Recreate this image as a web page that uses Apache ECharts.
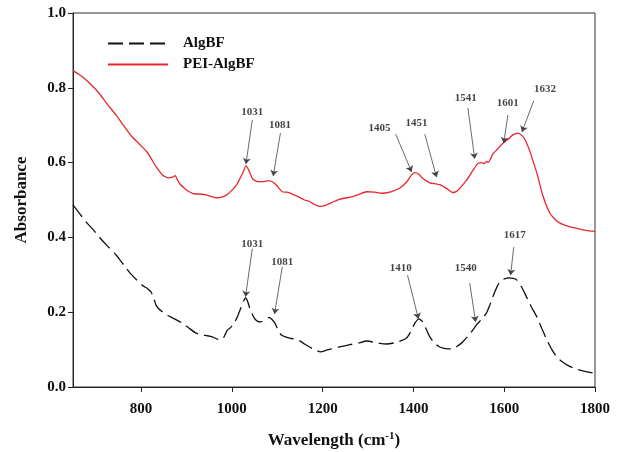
<!DOCTYPE html>
<html>
<head>
<meta charset="utf-8">
<script src="https://cdn.jsdelivr.net/npm/echarts@6/dist/echarts.min.js"></script>
<style>
  html, body { margin: 0; padding: 0; background: #fff; }
  #chart { width: 618px; height: 452px; }
</style>
</head>
<body>
<div id="chart"></div>
<script>
  // AlgBF spectrum
  var algWave = [650, 665, 681, 695, 707, 725, 745, 762, 780, 802, 815, 822, 828, 833, 840, 847, 858, 869, 880, 891, 905, 921, 935, 946, 957, 968, 977, 984, 990, 998, 1005, 1012, 1020, 1030, 1035, 1040, 1049, 1056, 1064, 1073, 1082, 1088, 1095, 1102, 1109, 1118, 1127, 1138, 1149, 1160, 1171, 1182, 1195, 1210, 1237, 1260, 1280, 1297, 1320, 1341, 1365, 1385, 1395, 1403, 1412, 1420, 1428, 1436, 1447, 1458, 1475, 1487, 1500, 1509, 1525, 1539, 1550, 1561, 1568, 1575, 1583, 1590, 1600, 1612, 1627, 1638, 1649, 1660, 1672, 1683, 1694, 1705, 1716, 1727, 1738, 1752, 1767, 1785, 1800]
  var algAbs = [0.487, 0.463, 0.438, 0.420, 0.402, 0.378, 0.353, 0.326, 0.299, 0.273, 0.262, 0.254, 0.237, 0.219, 0.208, 0.201, 0.192, 0.185, 0.178, 0.171, 0.158, 0.144, 0.139, 0.137, 0.134, 0.128, 0.126, 0.137, 0.152, 0.160, 0.171, 0.187, 0.212, 0.238, 0.228, 0.208, 0.185, 0.176, 0.174, 0.180, 0.186, 0.181, 0.170, 0.152, 0.139, 0.134, 0.131, 0.128, 0.124, 0.115, 0.107, 0.100, 0.094, 0.099, 0.107, 0.113, 0.118, 0.123, 0.118, 0.115, 0.120, 0.131, 0.150, 0.170, 0.182, 0.175, 0.155, 0.134, 0.116, 0.107, 0.102, 0.102, 0.112, 0.121, 0.143, 0.166, 0.181, 0.198, 0.218, 0.241, 0.265, 0.281, 0.289, 0.292, 0.287, 0.268, 0.241, 0.214, 0.187, 0.156, 0.126, 0.100, 0.080, 0.068, 0.059, 0.051, 0.045, 0.040, 0.037]

  // PEI-AlgBF spectrum
  var peiWave = [650, 660, 670, 690, 707, 725, 745, 762, 780, 800, 814, 825, 833, 847, 860, 869, 875, 880, 886, 896, 906, 918, 928, 943, 955, 965, 978, 988, 1001, 1010, 1016, 1024, 1031, 1038, 1045, 1055, 1068, 1082, 1090, 1098, 1111, 1120, 1127, 1138, 1149, 1160, 1171, 1182, 1193, 1205, 1220, 1237, 1266, 1280, 1297, 1315, 1330, 1350, 1370, 1385, 1395, 1403, 1412, 1420, 1436, 1450, 1458, 1473, 1487, 1495, 1502, 1517, 1530, 1542, 1550, 1556, 1561, 1565, 1575, 1586, 1597, 1610, 1619, 1630, 1641, 1648, 1656, 1664, 1672, 1685, 1700, 1712, 1723, 1740, 1760, 1780, 1800]
  var peiAbs = [0.846, 0.838, 0.830, 0.808, 0.786, 0.757, 0.727, 0.698, 0.669, 0.645, 0.627, 0.605, 0.589, 0.567, 0.559, 0.561, 0.565, 0.554, 0.542, 0.531, 0.522, 0.516, 0.516, 0.514, 0.509, 0.506, 0.508, 0.513, 0.527, 0.540, 0.553, 0.572, 0.591, 0.578, 0.558, 0.550, 0.549, 0.552, 0.548, 0.540, 0.522, 0.521, 0.519, 0.513, 0.507, 0.500, 0.496, 0.488, 0.483, 0.485, 0.493, 0.502, 0.509, 0.515, 0.522, 0.521, 0.518, 0.522, 0.532, 0.548, 0.566, 0.573, 0.569, 0.558, 0.546, 0.543, 0.541, 0.531, 0.520, 0.523, 0.531, 0.553, 0.577, 0.598, 0.600, 0.597, 0.603, 0.601, 0.623, 0.637, 0.652, 0.664, 0.674, 0.679, 0.670, 0.656, 0.632, 0.602, 0.572, 0.512, 0.466, 0.448, 0.438, 0.430, 0.424, 0.419, 0.416]

  var xTicks = [800, 1000, 1200, 1400, 1600, 1800]

  // peak annotations: label, text position, arrow start, arrow tip (data units)
  var peiPeaks = ['1031', '1081', '1405', '1451', '1541', '1601', '1632']
  var peiTextAt = [[1045, 0.736], [1106, 0.700], [1325, 0.693], [1407, 0.706], [1515, 0.773], [1608, 0.759], [1690, 0.797]]
  var peiArrowFrom = [[1045, 0.714], [1107, 0.679], [1361, 0.676], [1425, 0.676], [1520, 0.746], [1608, 0.727], [1665, 0.765]]
  var peiArrowTo = [[1031, 0.596], [1091, 0.564], [1396, 0.575], [1451, 0.561], [1535, 0.610], [1599, 0.652], [1639, 0.682]]

  var algPeaks = ['1031', '1081', '1410', '1540', '1617']
  var algTextAt = [[1045, 0.382], [1111, 0.334], [1372, 0.318], [1515, 0.318], [1623, 0.406]]
  var algArrowFrom = [[1045, 0.370], [1111, 0.321], [1387, 0.299], [1524, 0.278], [1621, 0.374]]
  var algArrowTo = [[1030, 0.241], [1094, 0.195], [1411, 0.182], [1537, 0.174], [1614, 0.299]]

  var serif = 'Liberation Serif'

  function pairs (xs, ys) {
    return xs.map(function (x, i) { return [x, ys[i]] })
  }

  function arrows (from, to) {
    return from.map(function (p, i) {
      return [{ coord: p }, { coord: to[i] }]
    })
  }

  function texts (labels, pos) {
    return labels.map(function (t, i) {
      return [pos[i][0], pos[i][1], t]
    })
  }

  var arrowStyle = {
    silent: true,
    symbol: ['none', 'arrow'],
    symbolSize: 6,
    label: { show: false },
    lineStyle: { color: '#444', width: 0.8, type: 'solid' },
    emphasis: { disabled: true }
  }

  var chart = echarts.init(document.getElementById('chart'))
  var option = {
    animation: false,
    grid: {
      left: 73, right: 23, top: 13, bottom: 65,
      outerBoundsMode: 'none',
      show: true, borderColor: '#333', borderWidth: 1
    },
    legend: {
      data: ['AlgBF', 'PEI-AlgBF'],
      left: 102,
      top: 31,
      orient: 'vertical',
      itemWidth: 60,
      itemHeight: 14,
      itemGap: 6,
      itemStyle: { opacity: 0 },
      textStyle: {
        fontFamily: serif, fontWeight: 'bold', fontSize: 15, color: '#111',
        padding: [0, 0, 0, 10]
      }
    },
    xAxis: {
      type: 'value',
      min: 650,
      max: 1800,
      name: 'Wavelength (cm{sup|-1})',
      nameLocation: 'middle',
      nameGap: 44,
      nameTextStyle: {
        fontFamily: serif, fontWeight: 'bold', fontSize: 17, color: '#111',
        rich: {
          sup: { fontFamily: serif, fontWeight: 'bold', fontSize: 11, color: '#111', verticalAlign: 'top', padding: [0, 0, 8, 0] }
        }
      },
      splitLine: { show: false },
      axisLine: { lineStyle: { color: '#222', width: 1 } },
      axisTick: { inside: false, length: 5, customValues: xTicks, lineStyle: { color: '#222' } },
      axisLabel: {
        customValues: xTicks,
        margin: 15,
        fontFamily: serif, fontWeight: 'bold', fontSize: 15, color: '#111',
        formatter: function (v) { return String(v) }
      }
    },
    yAxis: {
      type: 'value',
      min: 0,
      max: 1,
      interval: 0.2,
      name: 'Absorbance',
      nameLocation: 'middle',
      nameGap: 43,
      nameTextStyle: { fontFamily: serif, fontWeight: 'bold', fontSize: 17, color: '#111' },
      splitLine: { show: false },
      axisLine: { show: true, lineStyle: { color: '#222', width: 1 } },
      axisTick: { show: true, inside: false, length: 5, lineStyle: { color: '#222' } },
      axisLabel: {
        margin: 7,
        fontFamily: serif, fontWeight: 'bold', fontSize: 15, color: '#111',
        formatter: function (v) { return v.toFixed(1) }
      }
    },
    series: [
      {
        name: 'AlgBF',
        type: 'line',
        data: pairs(algWave, algAbs),
        symbol: 'none',
        smooth: 0.2,
        color: '#111',
        lineStyle: { color: '#111', width: 1.3, type: [15, 6] },
        markLine: Object.assign({ data: arrows(algArrowFrom, algArrowTo) }, arrowStyle)
      },
      {
        name: 'PEI-AlgBF',
        type: 'line',
        data: pairs(peiWave, peiAbs),
        symbol: 'none',
        smooth: 0.2,
        color: '#e8262e',
        lineStyle: { color: '#e8262e', width: 1.3 },
        markLine: Object.assign({ data: arrows(peiArrowFrom, peiArrowTo) }, arrowStyle)
      },
      {
        type: 'scatter',
        silent: true,
        symbolSize: 0,
        data: texts(algPeaks, algTextAt).concat(texts(peiPeaks, peiTextAt)),
        label: {
          show: true,
          position: 'inside',
          formatter: function (p) { return p.data[2] },
          fontFamily: serif, fontWeight: 'bold', fontSize: 11, color: '#111'
        }
      }
    ]
  }
  chart.setOption(option)
</script>
</body>
</html>
